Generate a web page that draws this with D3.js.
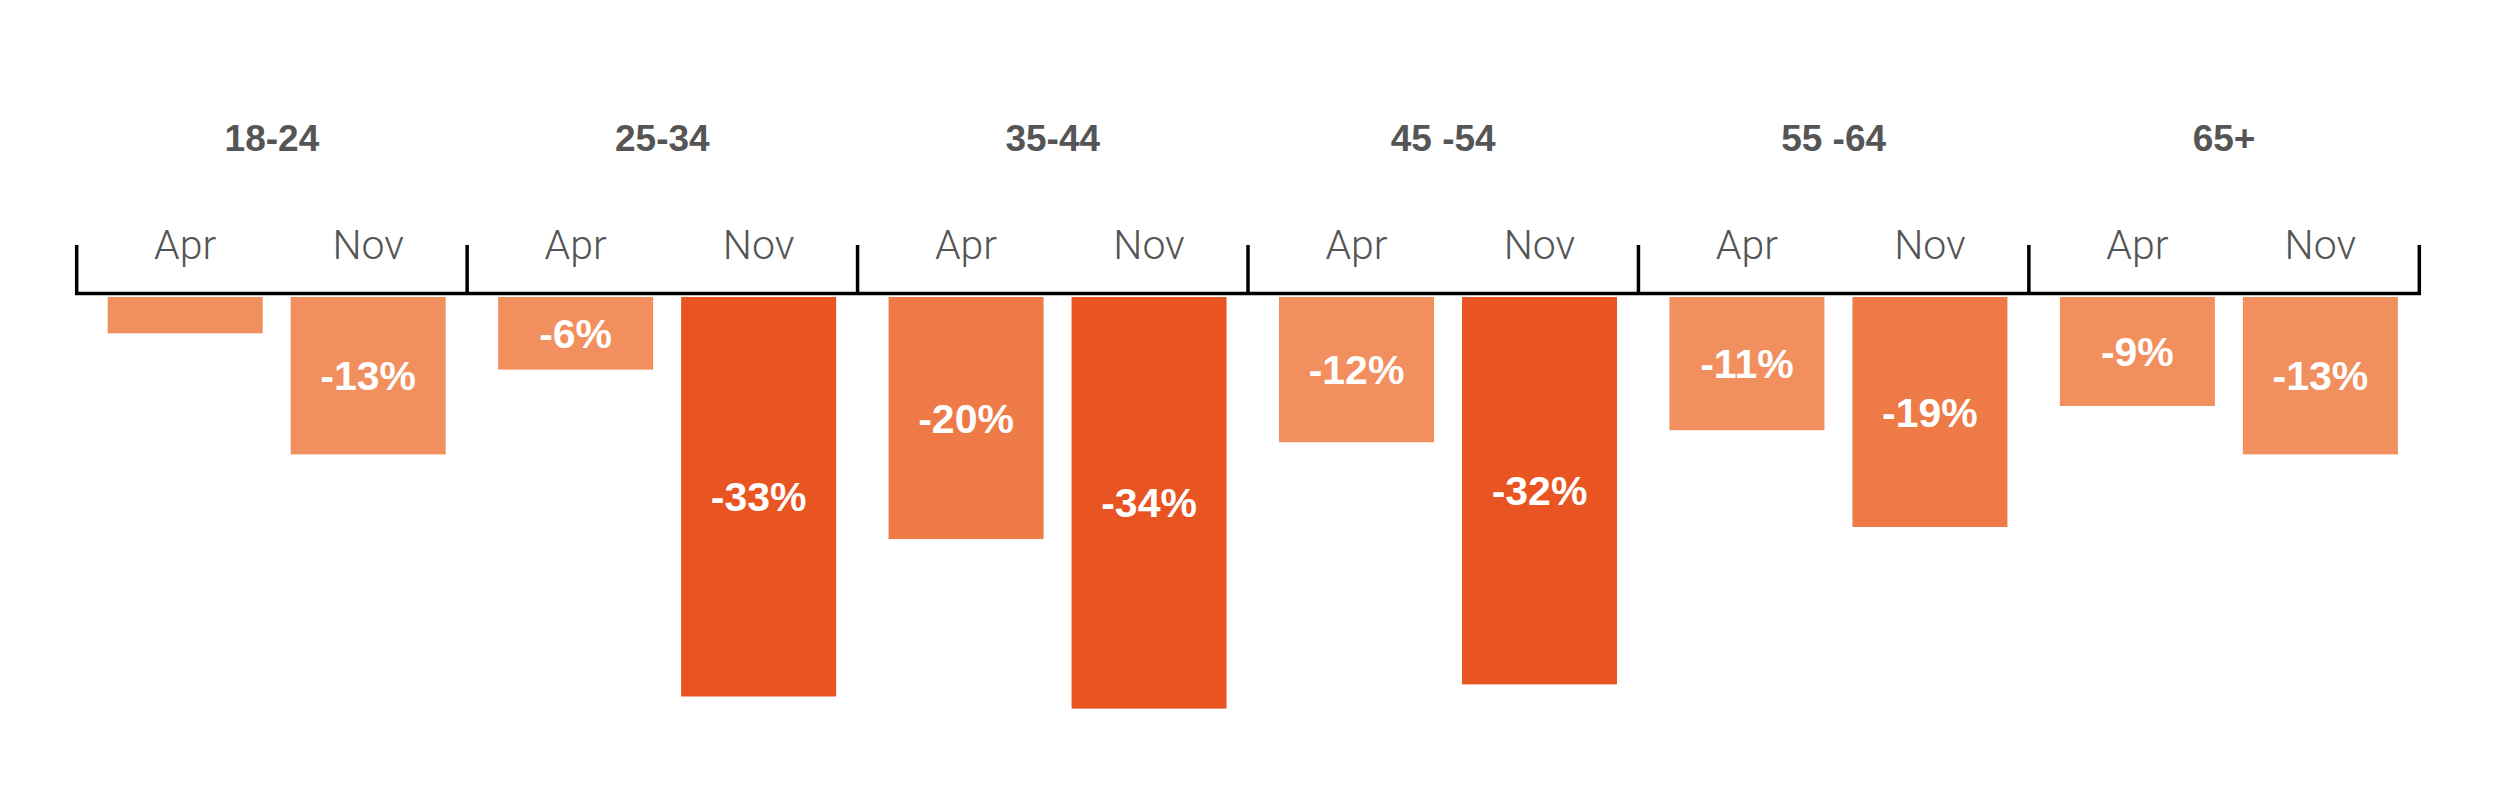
<!DOCTYPE html>
<html>
<head>
<meta charset="utf-8">
<script src="https://cdn.jsdelivr.net/npm/d3@7"></script>
<style>
  html, body { margin: 0; padding: 0; background: #ffffff; }
  svg { display: block; }
</style>
</head>
<body>
<svg id="chart" width="2500" height="793"></svg>
<script>
// ---- data ----
const ageGroups = ["18-24", "25-34", "35-44", "45 -54", "55 -64", "65+"];
const months = ["Apr", "Nov"];
const aprValues = [-3, -6, -20, -12, -11, -9];
const novValues = [-13, -33, -34, -32, -19, -13];
const showLabel = [[false, true], [true, true], [true, true], [true, true], [true, true], [true, true]];

// ---- layout ----
const W = 2500, H = 793;
const axisY = 293.5;
const barTop = 297;

const svg = d3.select("#chart");
svg.append("rect").attr("width", W).attr("height", H).attr("fill", "#ffffff");

const x0 = d3.scaleBand().domain(ageGroups).range([76.7, 2419.3]).padding(0);
const step = x0.step();
const x1 = d3.scaleBand().domain(months).range([31, 369]).paddingInner(28 / 183).paddingOuter(0);
const y = d3.scaleLinear().domain([0, -34]).range([barTop, barTop + 411.6]);
const color = d3.scaleThreshold().domain([-30, -15]).range(["#E85422", "#EE7A47", "#F18F5E"]);

const rows = ageGroups.map((g, i) => ({
  group: g,
  bars: months.map((m, j) => ({ group: g, month: m, value: j === 0 ? aprValues[i] : novValues[i], show: showLabel[i][j] }))
}));

// group labels
svg.append("g").selectAll("text").data(ageGroups).join("text")
  .attr("x", d => x0(d) + step / 2)
  .attr("y", 151)
  .attr("text-anchor", "middle")
  .attr("font-family", "'Liberation Sans', Arial, sans-serif")
  .attr("font-weight", "bold")
  .attr("font-size", 37)
  .attr("fill", "#555555")
  .text(d => d);

const groupsG = svg.append("g").selectAll("g").data(rows).join("g")
  .attr("transform", d => `translate(${x0(d.group)},0)`);

// bars
groupsG.selectAll("rect").data(d => d.bars).join("rect")
  .attr("x", d => x1(d.month))
  .attr("width", x1.bandwidth())
  .attr("y", barTop)
  .attr("height", d => y(d.value) - barTop)
  .attr("fill", d => color(d.value));

// month labels
groupsG.selectAll("text.month").data(d => d.bars).join("text")
  .attr("class", "month")
  .attr("x", d => x1(d.month) + x1.bandwidth() / 2)
  .attr("y", 259)
  .attr("text-anchor", "middle")
  .attr("font-family", "Roboto, 'Open Sans', sans-serif")
  .attr("font-weight", 300)
  .attr("font-size", 41)
  .attr("fill", "#555555")
  .text(d => d.month);

// value labels (plain hyphen-minus, as in the original)
groupsG.selectAll("text.val").data(d => d.bars.filter(b => b.show)).join("text")
  .attr("class", "val")
  .attr("x", d => x1(d.month) + x1.bandwidth() / 2)
  .attr("y", d => (barTop + y(d.value)) / 2 + 14.5)
  .attr("text-anchor", "middle")
  .attr("font-family", "'Liberation Sans', Arial, sans-serif")
  .attr("font-weight", "bold")
  .attr("font-size", 41)
  .attr("fill", "#ffffff")
  .text(d => String(d.value) + "%");

// axis line and group dividers
const bounds = ageGroups.map(g => x0(g)).concat([x0.range()[1]]);
svg.append("line")
  .attr("x1", bounds[0] - 1.75).attr("x2", bounds[bounds.length - 1] + 1.75)
  .attr("y1", axisY).attr("y2", axisY)
  .attr("stroke", "#000000").attr("stroke-width", 3.5);
svg.append("g").selectAll("line").data(bounds).join("line")
  .attr("x1", d => d).attr("x2", d => d)
  .attr("y1", 245).attr("y2", axisY)
  .attr("stroke", "#000000").attr("stroke-width", 3.5);
</script>
</body>
</html>
